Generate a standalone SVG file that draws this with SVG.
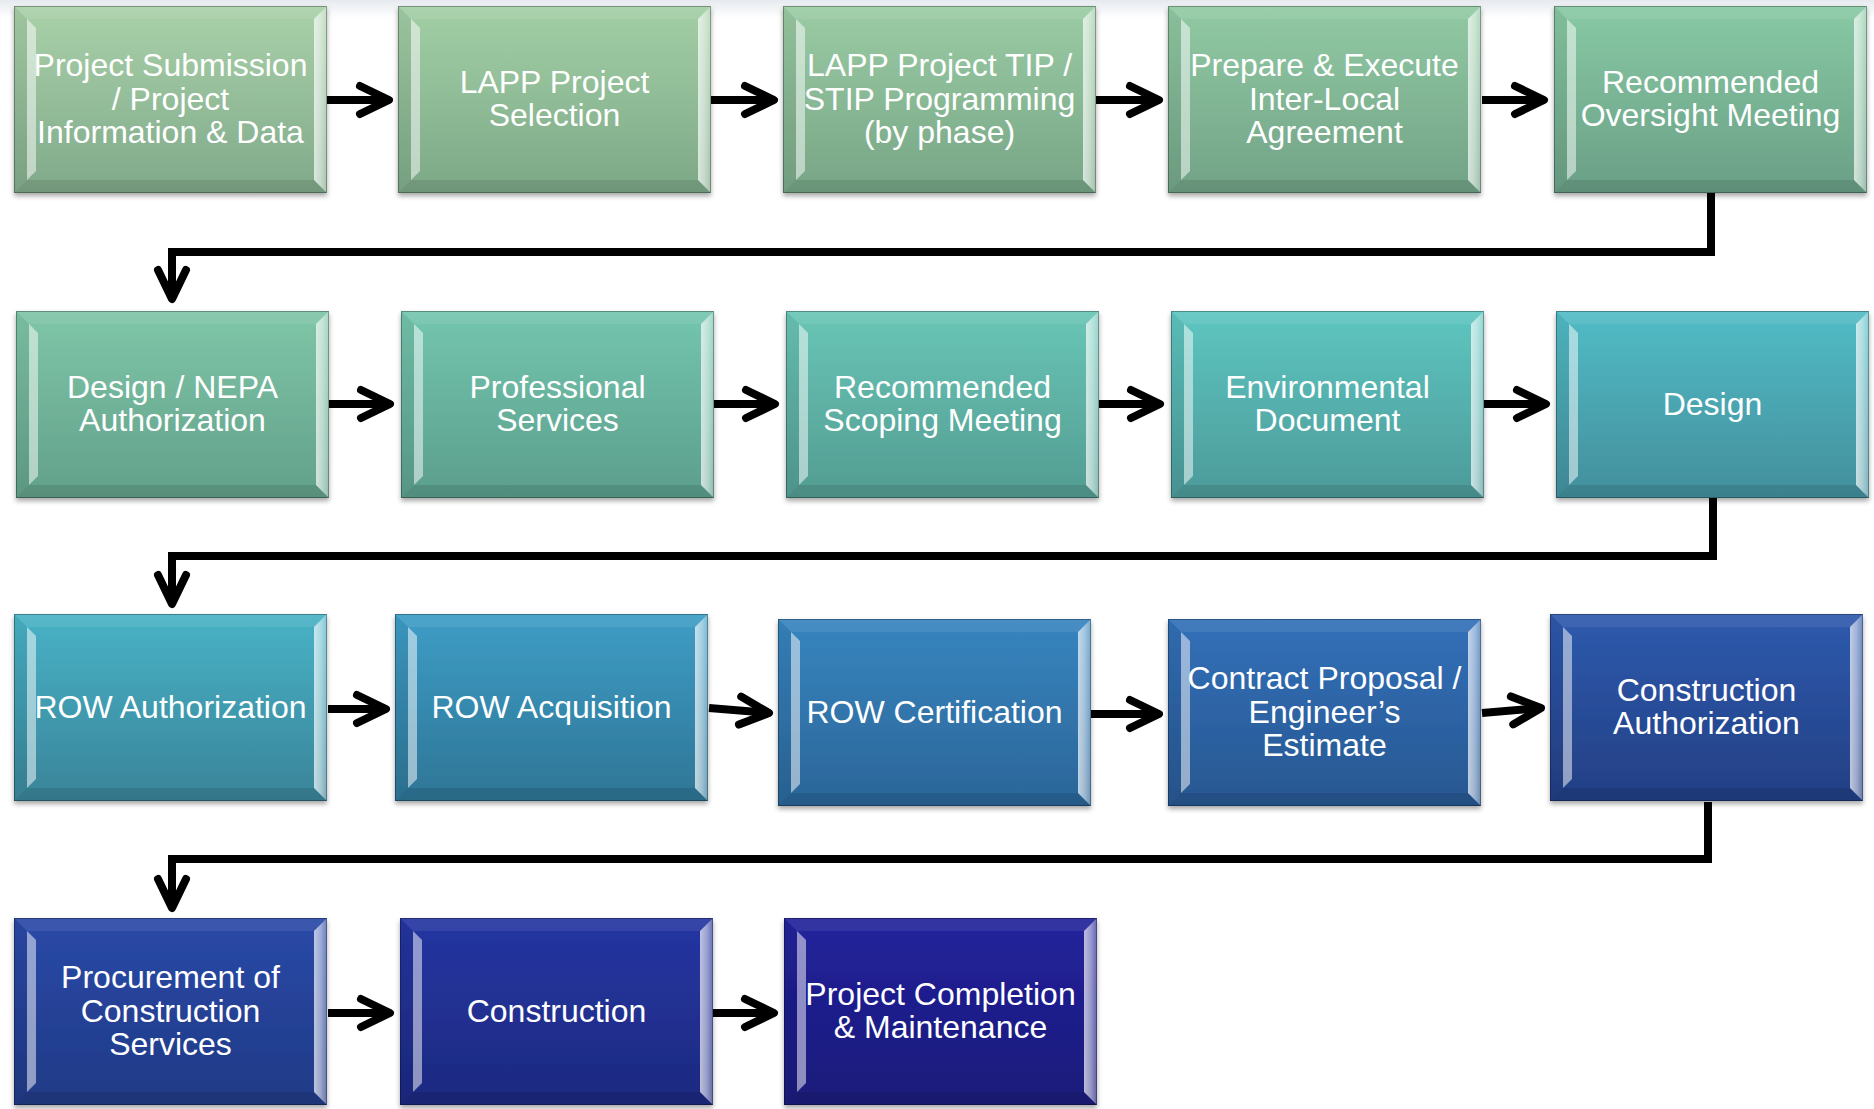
<svg xmlns="http://www.w3.org/2000/svg" xmlns:xlink="http://www.w3.org/1999/xlink" width="1874" height="1109" viewBox="0 0 1874 1109">
<style>
  .lbl { font-family: "Liberation Sans", Arial, sans-serif; font-size: 32px; fill: #ffffff; text-anchor: middle; }
  .conn { fill: none; stroke: #000; stroke-width: 8; stroke-linejoin: miter; }
</style>
<defs>
  <linearGradient id="topband" x1="0" y1="0" x2="0" y2="1"><stop offset="0" stop-color="#e6eaef"/><stop offset="1" stop-color="#ffffff"/></linearGradient>
  <linearGradient id="g1" x1="0" y1="0" x2="0" y2="1"><stop offset="0" stop-color="#a9d1a9"/><stop offset="1" stop-color="#80a98a"/></linearGradient>
  <linearGradient id="g2" x1="0" y1="0" x2="0" y2="1"><stop offset="0" stop-color="#a3cfa6"/><stop offset="1" stop-color="#7ca887"/></linearGradient>
  <linearGradient id="g3" x1="0" y1="0" x2="0" y2="1"><stop offset="0" stop-color="#9bcca4"/><stop offset="1" stop-color="#77a586"/></linearGradient>
  <linearGradient id="g4" x1="0" y1="0" x2="0" y2="1"><stop offset="0" stop-color="#92caa4"/><stop offset="1" stop-color="#71a286"/></linearGradient>
  <linearGradient id="g5" x1="0" y1="0" x2="0" y2="1"><stop offset="0" stop-color="#88c9a4"/><stop offset="1" stop-color="#6a9f86"/></linearGradient>
  <linearGradient id="g6" x1="0" y1="0" x2="0" y2="1"><stop offset="0" stop-color="#7fc6a8"/><stop offset="1" stop-color="#62a08a"/></linearGradient>
  <linearGradient id="g7" x1="0" y1="0" x2="0" y2="1"><stop offset="0" stop-color="#74c6ae"/><stop offset="1" stop-color="#5b9e8c"/></linearGradient>
  <linearGradient id="g8" x1="0" y1="0" x2="0" y2="1"><stop offset="0" stop-color="#69c6b6"/><stop offset="1" stop-color="#539c92"/></linearGradient>
  <linearGradient id="g9" x1="0" y1="0" x2="0" y2="1"><stop offset="0" stop-color="#5ec6c0"/><stop offset="1" stop-color="#4c9a99"/></linearGradient>
  <linearGradient id="g10" x1="0" y1="0" x2="0" y2="1"><stop offset="0" stop-color="#52bcc6"/><stop offset="1" stop-color="#428f9c"/></linearGradient>
  <linearGradient id="g11" x1="0" y1="0" x2="0" y2="1"><stop offset="0" stop-color="#48b2c6"/><stop offset="1" stop-color="#3a8499"/></linearGradient>
  <linearGradient id="g12" x1="0" y1="0" x2="0" y2="1"><stop offset="0" stop-color="#3e9dc6"/><stop offset="1" stop-color="#2e7596"/></linearGradient>
  <linearGradient id="g13" x1="0" y1="0" x2="0" y2="1"><stop offset="0" stop-color="#3785bf"/><stop offset="1" stop-color="#2b6598"/></linearGradient>
  <linearGradient id="g14" x1="0" y1="0" x2="0" y2="1"><stop offset="0" stop-color="#3270b9"/><stop offset="1" stop-color="#285791"/></linearGradient>
  <linearGradient id="g15" x1="0" y1="0" x2="0" y2="1"><stop offset="0" stop-color="#2e5aad"/><stop offset="1" stop-color="#233f84"/></linearGradient>
  <linearGradient id="g16" x1="0" y1="0" x2="0" y2="1"><stop offset="0" stop-color="#2a49a8"/><stop offset="1" stop-color="#203a85"/></linearGradient>
  <linearGradient id="g17" x1="0" y1="0" x2="0" y2="1"><stop offset="0" stop-color="#2535a2"/><stop offset="1" stop-color="#1d2a80"/></linearGradient>
  <linearGradient id="g18" x1="0" y1="0" x2="0" y2="1"><stop offset="0" stop-color="#22229c"/><stop offset="1" stop-color="#1b1a7a"/></linearGradient>
  <linearGradient id="rf" x1="0" y1="0" x2="1" y2="0"><stop offset="0" stop-color="#fff" stop-opacity="0.7"/><stop offset="0.5" stop-color="#fff" stop-opacity="0.55"/><stop offset="1" stop-color="#fff" stop-opacity="0.3"/></linearGradient>
  <filter id="sh" x="-5%" y="-5%" width="110%" height="115%">
    <feDropShadow dx="0" dy="3" stdDeviation="2.5" flood-color="#000" flood-opacity="0.35"/>
  </filter>
  <g id="bevel">
    <polygon points="0,0 313,0 300,13 13,13" fill="#fff" fill-opacity="0.08"/>
    <polygon points="0,187 313,187 300,174 13,174" fill="#000" fill-opacity="0.1"/>
    <polygon points="0,0 13,13 13,174 0,187" fill="#000" fill-opacity="0.05"/>
    <polygon points="13,13 22,22 22,165 13,174" fill="#fff" fill-opacity="0.5"/>
    <polygon points="313,0 300,13 300,174 313,187" fill="url(#rf)"/>
    <rect x="0.5" y="0.5" width="312" height="186" fill="none" stroke="#000" stroke-opacity="0.3" stroke-width="1"/>
  </g>
  <marker id="ah" markerUnits="userSpaceOnUse" markerWidth="60" markerHeight="60" refX="0" refY="0" orient="auto" overflow="visible">
    <path d="M-29,-14 L0,0 L-29,14" fill="none" stroke="#000" stroke-width="8" stroke-linecap="round" stroke-linejoin="round"/>
  </marker>
</defs>

<rect x="0" y="0" width="1874" height="1109" fill="#ffffff"/>
<rect x="0" y="0" width="1874" height="18" fill="url(#topband)"/>

<g id="connectors">
  <path class="conn" marker-end="url(#ah)" d="M327,100 L389,100"/>
  <path class="conn" marker-end="url(#ah)" d="M711,100 L774,100"/>
  <path class="conn" marker-end="url(#ah)" d="M1096,100 L1159,100"/>
  <path class="conn" marker-end="url(#ah)" d="M1482,100 L1544,100"/>
  <path class="conn" marker-end="url(#ah)" d="M1711,193 L1711,252 L172,252 L172,299"/>
  <path class="conn" marker-end="url(#ah)" d="M329,404 L390,404"/>
  <path class="conn" marker-end="url(#ah)" d="M714,404 L775,404"/>
  <path class="conn" marker-end="url(#ah)" d="M1098,404 L1160,404"/>
  <path class="conn" marker-end="url(#ah)" d="M1484,404 L1546,404"/>
  <path class="conn" marker-end="url(#ah)" d="M1713,497 L1713,556 L172,556 L172,604"/>
  <path class="conn" marker-end="url(#ah)" d="M328,709 L386,709"/>
  <path class="conn" marker-end="url(#ah)" d="M709,708 L769,713"/>
  <path class="conn" marker-end="url(#ah)" d="M1091,714 L1159,714"/>
  <path class="conn" marker-end="url(#ah)" d="M1482,713 L1541,708"/>
  <path class="conn" marker-end="url(#ah)" d="M1708,802 L1708,859 L172,859 L172,908"/>
  <path class="conn" marker-end="url(#ah)" d="M328,1013 L390,1013"/>
  <path class="conn" marker-end="url(#ah)" d="M713,1013 L774,1013"/>
</g>

<g id="n1"><rect x="14" y="6" width="313" height="187" fill="url(#g1)" filter="url(#sh)"/><use href="#bevel" x="14" y="6"/>
  <text class="lbl"><tspan x="170.5" y="76">Project Submission</tspan><tspan x="170.5" y="109.5">/ Project</tspan><tspan x="170.5" y="143">Information &amp; Data</tspan></text></g>
<g id="n2"><rect x="398" y="6" width="313" height="187" fill="url(#g2)" filter="url(#sh)"/><use href="#bevel" x="398" y="6"/>
  <text class="lbl"><tspan x="554.5" y="92.75">LAPP Project</tspan><tspan x="554.5" y="126.25">Selection</tspan></text></g>
<g id="n3"><rect x="783" y="6" width="313" height="187" fill="url(#g3)" filter="url(#sh)"/><use href="#bevel" x="783" y="6"/>
  <text class="lbl"><tspan x="939.5" y="76">LAPP Project TIP /</tspan><tspan x="939.5" y="109.5">STIP Programming</tspan><tspan x="939.5" y="143">(by phase)</tspan></text></g>
<g id="n4"><rect x="1168" y="6" width="313" height="187" fill="url(#g4)" filter="url(#sh)"/><use href="#bevel" x="1168" y="6"/>
  <text class="lbl"><tspan x="1324.5" y="76">Prepare &amp; Execute</tspan><tspan x="1324.5" y="109.5">Inter-Local</tspan><tspan x="1324.5" y="143">Agreement</tspan></text></g>
<g id="n5"><rect x="1554" y="6" width="313" height="187" fill="url(#g5)" filter="url(#sh)"/><use href="#bevel" x="1554" y="6"/>
  <text class="lbl"><tspan x="1710.5" y="92.75">Recommended</tspan><tspan x="1710.5" y="126.25">Oversight Meeting</tspan></text></g>

<g id="n6"><rect x="16" y="311" width="313" height="187" fill="url(#g6)" filter="url(#sh)"/><use href="#bevel" x="16" y="311"/>
  <text class="lbl"><tspan x="172.5" y="397.75">Design / NEPA</tspan><tspan x="172.5" y="431.25">Authorization</tspan></text></g>
<g id="n7"><rect x="401" y="311" width="313" height="187" fill="url(#g7)" filter="url(#sh)"/><use href="#bevel" x="401" y="311"/>
  <text class="lbl"><tspan x="557.5" y="397.75">Professional</tspan><tspan x="557.5" y="431.25">Services</tspan></text></g>
<g id="n8"><rect x="786" y="311" width="313" height="187" fill="url(#g8)" filter="url(#sh)"/><use href="#bevel" x="786" y="311"/>
  <text class="lbl"><tspan x="942.5" y="397.75">Recommended</tspan><tspan x="942.5" y="431.25">Scoping Meeting</tspan></text></g>
<g id="n9"><rect x="1171" y="311" width="313" height="187" fill="url(#g9)" filter="url(#sh)"/><use href="#bevel" x="1171" y="311"/>
  <text class="lbl"><tspan x="1327.5" y="397.75">Environmental</tspan><tspan x="1327.5" y="431.25">Document</tspan></text></g>
<g id="n10"><rect x="1556" y="311" width="313" height="187" fill="url(#g10)" filter="url(#sh)"/><use href="#bevel" x="1556" y="311"/>
  <text class="lbl"><tspan x="1712.5" y="414.5">Design</tspan></text></g>

<g id="n11"><rect x="14" y="614" width="313" height="187" fill="url(#g11)" filter="url(#sh)"/><use href="#bevel" x="14" y="614"/>
  <text class="lbl"><tspan x="170.5" y="717.5">ROW Authorization</tspan></text></g>
<g id="n12"><rect x="395" y="614" width="313" height="187" fill="url(#g12)" filter="url(#sh)"/><use href="#bevel" x="395" y="614"/>
  <text class="lbl"><tspan x="551.5" y="717.5">ROW Acquisition</tspan></text></g>
<g id="n13"><rect x="778" y="619" width="313" height="187" fill="url(#g13)" filter="url(#sh)"/><use href="#bevel" x="778" y="619"/>
  <text class="lbl"><tspan x="934.5" y="722.5">ROW Certification</tspan></text></g>
<g id="n14"><rect x="1168" y="619" width="313" height="187" fill="url(#g14)" filter="url(#sh)"/><use href="#bevel" x="1168" y="619"/>
  <text class="lbl"><tspan x="1324.5" y="689">Contract Proposal /</tspan><tspan x="1324.5" y="722.5">Engineer’s</tspan><tspan x="1324.5" y="756">Estimate</tspan></text></g>
<g id="n15"><rect x="1550" y="614" width="313" height="187" fill="url(#g15)" filter="url(#sh)"/><use href="#bevel" x="1550" y="614"/>
  <text class="lbl"><tspan x="1706.5" y="700.75">Construction</tspan><tspan x="1706.5" y="734.25">Authorization</tspan></text></g>

<g id="n16"><rect x="14" y="918" width="313" height="187" fill="url(#g16)" filter="url(#sh)"/><use href="#bevel" x="14" y="918"/>
  <text class="lbl"><tspan x="170.5" y="988">Procurement of</tspan><tspan x="170.5" y="1021.5">Construction</tspan><tspan x="170.5" y="1055">Services</tspan></text></g>
<g id="n17"><rect x="400" y="918" width="313" height="187" fill="url(#g17)" filter="url(#sh)"/><use href="#bevel" x="400" y="918"/>
  <text class="lbl"><tspan x="556.5" y="1021.5">Construction</tspan></text></g>
<g id="n18"><rect x="784" y="918" width="313" height="187" fill="url(#g18)" filter="url(#sh)"/><use href="#bevel" x="784" y="918"/>
  <text class="lbl"><tspan x="940.5" y="1004.75">Project Completion</tspan><tspan x="940.5" y="1038.25">&amp; Maintenance</tspan></text></g>
</svg>
